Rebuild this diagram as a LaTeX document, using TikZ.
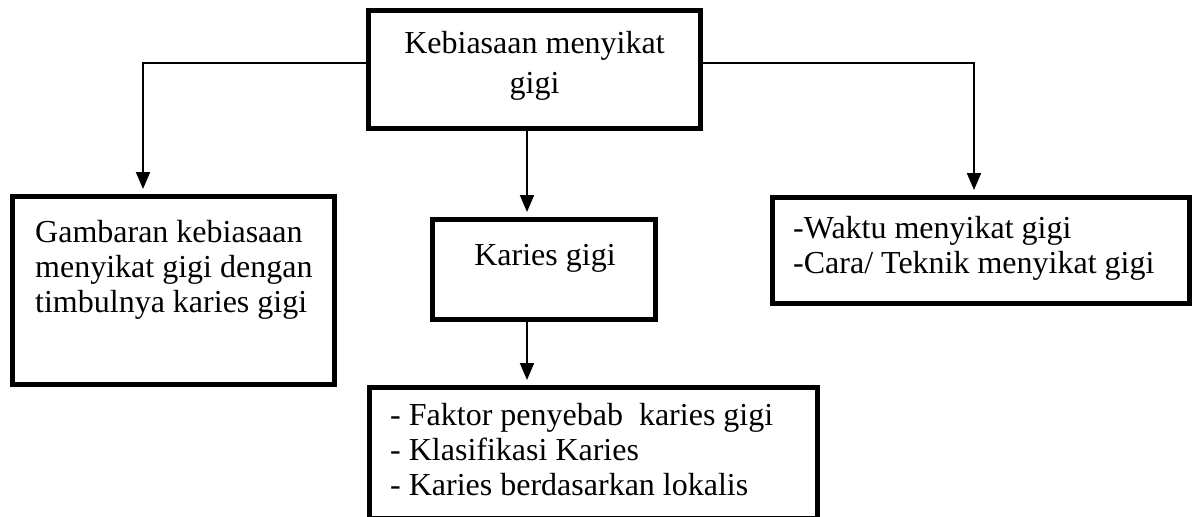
\documentclass[tikz,border=0pt]{standalone}
\usepackage{fontspec}
\setmainfont{Liberation Serif}
\usetikzlibrary{arrows.meta}
\begin{document}
\begin{tikzpicture}[x=1pt,y=-1pt,
  box/.style={draw=black, line width=5pt, inner sep=0pt, fill=white},
  conn/.style={draw=black, line width=2pt, -{Triangle[length=17pt,width=14pt]}, shorten >=5pt},
  lbl/.style={inner sep=0pt, font=\fontsize{32}{38}\selectfont}]
\useasboundingbox (0,0) rectangle (1195,517);
\fill[white] (0,0) rectangle (1195,517);
% boxes
\node[box, minimum width=332pt, minimum height=118pt] (top) at (534.5,69.5) {};
\node[box, minimum width=322pt, minimum height=188pt] (left) at (173.5,290.5) {};
\node[box, minimum width=223pt, minimum height=100pt] (karies) at (544,269.5) {};
\node[box, minimum width=448pt, minimum height=131pt] (bottom) at (593.5,453) {};
\node[box, minimum width=417pt, minimum height=106pt] (right) at (981,250.5) {};
% connector helper coordinates
\coordinate (lt) at (143,63);
\coordinate (rt) at (974,63);
\coordinate (mx) at (527,0);
\draw[conn] (top.west |- lt) -- (lt) -- (left.north -| lt);
\draw[conn] (top.east |- rt) -- (rt) -- (right.north -| rt);
\draw[conn] (top.south -| mx) -- (karies.north -| mx);
\draw[conn] (karies.south -| mx) -- (bottom.north -| mx);
% texts
\node[lbl, anchor=base] (t1) at (534.5,53) {Kebiasaan menyikat};
\node[lbl, anchor=base] (t2) at (534.5,93) {gigi};
\node[lbl, anchor=base west] (l1) at (35,242) {Gambaran kebiasaan};
\node[lbl, anchor=base west] (l2) at (35,277) {menyikat gigi dengan};
\node[lbl, anchor=base west] (l3) at (35,312) {timbulnya karies gigi};
\node[lbl, anchor=base] (k1) at (545,265) {Karies gigi};
\node[lbl, anchor=base west] (b1) at (390,425) {- Faktor penyebab \ karies gigi};
\node[lbl, anchor=base west] (b2) at (390,460) {- Klasifikasi Karies};
\node[lbl, anchor=base west] (b3) at (390,495) {- Karies berdasarkan lokalis};
\node[lbl, anchor=base west] (r1) at (793,238) {-Waktu menyikat gigi};
\node[lbl, anchor=base west] (r2) at (793,273) {-Cara/ Teknik menyikat gigi};
\end{tikzpicture}
\end{document}
